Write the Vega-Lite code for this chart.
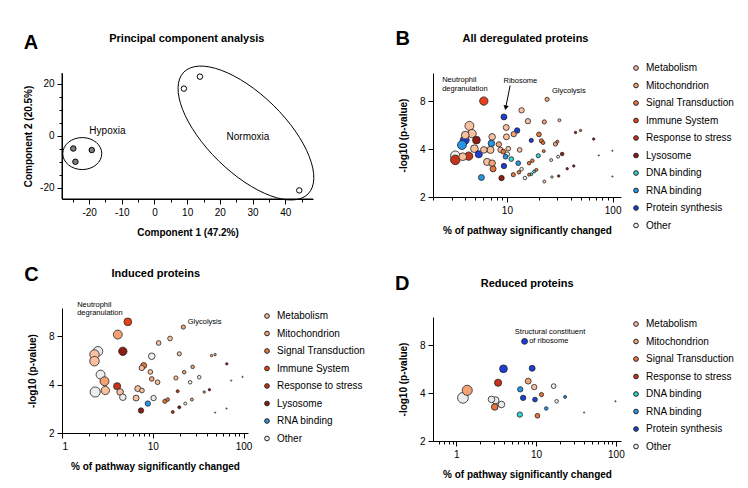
{
  "$schema": "https://vega.github.io/schema/vega-lite/v6.json",
  "padding": {"left": 23, "top": 29, "right": 5, "bottom": 5},
  "config": {
    "font": "Liberation Sans",
    "view": {"stroke": null},
    "axis": {"grid": false, "domainColor": "#000", "tickColor": "#000", "labelColor": "#000", "titleColor": "#000", "labelFontSize": 10, "titleFontSize": 10, "titleFontWeight": "bold", "labelPadding": 3, "tickSize": 5, "titlePadding": 10, "labelOverlap": false},
    "legend": {"labelFontSize": 10, "labelColor": "#000", "symbolType": "circle", "symbolSize": 22, "symbolStrokeColor": "#222", "symbolStrokeWidth": 1, "rowPadding": 7.5, "labelOffset": 5, "padding": 0},
    "text": {"color": "#000"}
  },
  "datasets": {
    "pca": [
      {"c1": -24.85, "c2": -4.9, "group": "Hypoxia"},
      {"c1": -19.2, "c2": -5.5, "group": "Hypoxia"},
      {"c1": -24.2, "c2": -10.0, "group": "Hypoxia"},
      {"c1": 9.0, "c2": 18.1, "group": "Normoxia"},
      {"c1": 13.9, "c2": 22.7, "group": "Normoxia"},
      {"c1": 44.3, "c2": -21.0, "group": "Normoxia"}
    ],
    "pcaGroups": [
      {"group": "Hypoxia", "c1": -22.1, "c2": -6.85},
      {"group": "Normoxia", "c1": 27.98, "c2": 1.04}
    ],
    "pcaLabels": [
      {"group": "Hypoxia", "c1": -14.4, "c2": 1.9},
      {"group": "Normoxia", "c1": 28.6, "c2": -0.4}
    ],
    "B": [
      {"category": "Immune System", "pct": 6.05, "logp": 8.0, "n": 87},
      {"category": "Protein synthesis", "pct": 9.37, "logp": 6.36, "n": 44},
      {"category": "Metabolism", "pct": 13.76, "logp": 7.0, "n": 36},
      {"category": "Metabolism", "pct": 15.8, "logp": 5.98, "n": 36},
      {"category": "Protein synthesis", "pct": 12.5, "logp": 5.23, "n": 36},
      {"category": "Metabolism", "pct": 9.85, "logp": 5.46, "n": 44},
      {"category": "Metabolism", "pct": 9.9, "logp": 4.77, "n": 44},
      {"category": "Mitochondrion", "pct": 11.6, "logp": 4.96, "n": 36},
      {"category": "Protein synthesis", "pct": 17.0, "logp": 4.53, "n": 22},
      {"category": "Signal Transduction", "pct": 20.1, "logp": 4.94, "n": 28},
      {"category": "Metabolism", "pct": 4.42, "logp": 5.59, "n": 100},
      {"category": "Metabolism", "pct": 4.68, "logp": 5.0, "n": 87},
      {"category": "Metabolism", "pct": 4.04, "logp": 4.89, "n": 75},
      {"category": "Protein synthesis", "pct": 3.99, "logp": 4.55, "n": 100},
      {"category": "Lysosome", "pct": 5.15, "logp": 4.55, "n": 75},
      {"category": "RNA binding", "pct": 3.76, "logp": 4.24, "n": 100},
      {"category": "Metabolism", "pct": 4.93, "logp": 4.02, "n": 75},
      {"category": "Other", "pct": 3.25, "logp": 3.63, "n": 114},
      {"category": "Response to stress", "pct": 4.35, "logp": 3.61, "n": 87},
      {"category": "Response to stress", "pct": 3.25, "logp": 3.42, "n": 114},
      {"category": "Metabolism", "pct": 3.82, "logp": 3.58, "n": 75},
      {"category": "Protein synthesis", "pct": 5.42, "logp": 3.71, "n": 64},
      {"category": "Metabolism", "pct": 6.05, "logp": 3.95, "n": 54},
      {"category": "Metabolism", "pct": 6.5, "logp": 3.32, "n": 64},
      {"category": "RNA binding", "pct": 7.14, "logp": 4.34, "n": 54},
      {"category": "Metabolism", "pct": 7.25, "logp": 4.77, "n": 54},
      {"category": "Metabolism", "pct": 6.99, "logp": 3.95, "n": 64},
      {"category": "Metabolism", "pct": 8.7, "logp": 3.95, "n": 36},
      {"category": "Mitochondrion", "pct": 8.4, "logp": 4.28, "n": 36},
      {"category": "Signal Transduction", "pct": 9.23, "logp": 3.85, "n": 28},
      {"category": "Metabolism", "pct": 10.3, "logp": 4.02, "n": 28},
      {"category": "Other", "pct": 10.07, "logp": 3.71, "n": 28},
      {"category": "RNA binding", "pct": 9.7, "logp": 3.58, "n": 28},
      {"category": "Metabolism", "pct": 13.2, "logp": 3.95, "n": 28},
      {"category": "DNA binding", "pct": 11.0, "logp": 3.46, "n": 28},
      {"category": "RNA binding", "pct": 12.8, "logp": 3.26, "n": 28},
      {"category": "Mitochondrion", "pct": 7.25, "logp": 3.26, "n": 54},
      {"category": "Signal Transduction", "pct": 7.4, "logp": 3.0, "n": 44},
      {"category": "Protein synthesis", "pct": 9.37, "logp": 3.13, "n": 36},
      {"category": "Other", "pct": 13.76, "logp": 2.99, "n": 16},
      {"category": "Signal Transduction", "pct": 11.5, "logp": 2.76, "n": 22},
      {"category": "Signal Transduction", "pct": 13.0, "logp": 2.86, "n": 16},
      {"category": "Lysosome", "pct": 8.9, "logp": 2.63, "n": 36},
      {"category": "RNA binding", "pct": 5.74, "logp": 2.65, "n": 44},
      {"category": "Other", "pct": 14.8, "logp": 2.63, "n": 16},
      {"category": "Signal Transduction", "pct": 16.2, "logp": 3.26, "n": 16},
      {"category": "Signal Transduction", "pct": 17.4, "logp": 3.38, "n": 16},
      {"category": "DNA binding", "pct": 19.8, "logp": 3.63, "n": 22},
      {"category": "DNA binding", "pct": 18.1, "logp": 2.89, "n": 11},
      {"category": "DNA binding", "pct": 17.0, "logp": 2.78, "n": 11},
      {"category": "Signal Transduction", "pct": 16.2, "logp": 2.76, "n": 11},
      {"category": "Mitochondrion", "pct": 24.0, "logp": 8.2, "n": 22},
      {"category": "Metabolism", "pct": 31.4, "logp": 6.06, "n": 11},
      {"category": "Mitochondrion", "pct": 22.6, "logp": 5.92, "n": 22},
      {"category": "Signal Transduction", "pct": 21.2, "logp": 4.5, "n": 22},
      {"category": "Signal Transduction", "pct": 22.0, "logp": 4.38, "n": 16},
      {"category": "Mitochondrion", "pct": 28.8, "logp": 4.3, "n": 22},
      {"category": "Signal Transduction", "pct": 30.0, "logp": 4.45, "n": 11},
      {"category": "Lysosome", "pct": 44.6, "logp": 5.08, "n": 7},
      {"category": "Signal Transduction", "pct": 49.7, "logp": 5.23, "n": 7},
      {"category": "Lysosome", "pct": 66.2, "logp": 4.62, "n": 7},
      {"category": "Other", "pct": 99.5, "logp": 3.9, "n": 2},
      {"category": "Other", "pct": 74.0, "logp": 3.65, "n": 2},
      {"category": "Other", "pct": 99.5, "logp": 2.69, "n": 2},
      {"category": "Signal Transduction", "pct": 22.3, "logp": 3.88, "n": 11},
      {"category": "Lysosome", "pct": 33.3, "logp": 3.72, "n": 16},
      {"category": "Other", "pct": 30.5, "logp": 3.58, "n": 11},
      {"category": "Other", "pct": 26.2, "logp": 3.41, "n": 11},
      {"category": "Lysosome", "pct": 37.2, "logp": 3.01, "n": 7},
      {"category": "Lysosome", "pct": 42.9, "logp": 3.13, "n": 7},
      {"category": "Lysosome", "pct": 30.9, "logp": 2.71, "n": 7},
      {"category": "Other", "pct": 26.7, "logp": 2.67, "n": 7},
      {"category": "Metabolism", "pct": 22.6, "logp": 2.5, "n": 11},
      {"category": "Signal Transduction", "pct": 19.0, "logp": 2.96, "n": 11}
    ],
    "C": [
      {"category": "Immune System", "pct": 5.31, "logp": 9.84, "n": 75},
      {"category": "Mitochondrion", "pct": 4.12, "logp": 8.2, "n": 100},
      {"category": "Lysosome", "pct": 4.68, "logp": 6.45, "n": 87},
      {"category": "Other", "pct": 2.49, "logp": 6.45, "n": 114},
      {"category": "Metabolism", "pct": 2.28, "logp": 6.16, "n": 114},
      {"category": "Metabolism", "pct": 2.28, "logp": 5.6, "n": 114},
      {"category": "Other", "pct": 2.66, "logp": 4.62, "n": 100},
      {"category": "Mitochondrion", "pct": 2.94, "logp": 4.2, "n": 100},
      {"category": "Metabolism", "pct": 3.0, "logp": 3.68, "n": 87},
      {"category": "Other", "pct": 2.32, "logp": 3.6, "n": 128},
      {"category": "Response to stress", "pct": 4.05, "logp": 3.91, "n": 64},
      {"category": "Metabolism", "pct": 4.37, "logp": 3.6, "n": 54},
      {"category": "Other", "pct": 4.68, "logp": 3.34, "n": 54},
      {"category": "Metabolism", "pct": 6.55, "logp": 3.3, "n": 44},
      {"category": "Metabolism", "pct": 6.83, "logp": 3.78, "n": 44},
      {"category": "Metabolism", "pct": 7.6, "logp": 3.68, "n": 28},
      {"category": "Lysosome", "pct": 7.42, "logp": 2.76, "n": 36},
      {"category": "RNA binding", "pct": 8.82, "logp": 3.05, "n": 36},
      {"category": "Other", "pct": 10.2, "logp": 3.3, "n": 36},
      {"category": "Other", "pct": 9.75, "logp": 6.01, "n": 54},
      {"category": "Signal Transduction", "pct": 7.95, "logp": 5.26, "n": 44},
      {"category": "Metabolism", "pct": 7.56, "logp": 5.08, "n": 36},
      {"category": "Metabolism", "pct": 9.4, "logp": 4.8, "n": 28},
      {"category": "Mitochondrion", "pct": 9.75, "logp": 4.34, "n": 28},
      {"category": "Metabolism", "pct": 11.3, "logp": 4.14, "n": 28},
      {"category": "Metabolism", "pct": 11.6, "logp": 7.27, "n": 28},
      {"category": "Metabolism", "pct": 15.5, "logp": 7.75, "n": 28},
      {"category": "Mitochondrion", "pct": 21.7, "logp": 9.13, "n": 22},
      {"category": "Metabolism", "pct": 19.6, "logp": 6.22, "n": 22},
      {"category": "Metabolism", "pct": 18.0, "logp": 4.4, "n": 22},
      {"category": "Mitochondrion", "pct": 22.2, "logp": 4.78, "n": 16},
      {"category": "Mitochondrion", "pct": 27.5, "logp": 5.16, "n": 16},
      {"category": "Other", "pct": 25.8, "logp": 4.14, "n": 16},
      {"category": "Other", "pct": 32.5, "logp": 4.45, "n": 16},
      {"category": "Response to stress", "pct": 18.8, "logp": 3.64, "n": 11},
      {"category": "Signal Transduction", "pct": 14.6, "logp": 3.23, "n": 16},
      {"category": "Signal Transduction", "pct": 13.6, "logp": 3.15, "n": 22},
      {"category": "Other", "pct": 22.8, "logp": 3.05, "n": 11},
      {"category": "Mitochondrion", "pct": 27.0, "logp": 3.23, "n": 11},
      {"category": "Lysosome", "pct": 19.6, "logp": 2.89, "n": 11},
      {"category": "Response to stress", "pct": 16.6, "logp": 2.7, "n": 11},
      {"category": "Mitochondrion", "pct": 36.9, "logp": 3.6, "n": 7},
      {"category": "Lysosome", "pct": 42.1, "logp": 3.72, "n": 7},
      {"category": "Mitochondrion", "pct": 44.4, "logp": 6.07, "n": 7},
      {"category": "Mitochondrion", "pct": 48.6, "logp": 6.15, "n": 7},
      {"category": "Lysosome", "pct": 65.4, "logp": 5.39, "n": 7},
      {"category": "Other", "pct": 73.2, "logp": 4.24, "n": 2},
      {"category": "Other", "pct": 97.5, "logp": 4.47, "n": 2},
      {"category": "Other", "pct": 48.6, "logp": 2.68, "n": 2},
      {"category": "Other", "pct": 65.0, "logp": 2.84, "n": 2}
    ],
    "D": [
      {"category": "Protein synthesis", "pct": 7.17, "logp": 8.44, "n": 44},
      {"category": "Protein synthesis", "pct": 3.9, "logp": 5.68, "n": 75},
      {"category": "Protein synthesis", "pct": 8.93, "logp": 5.72, "n": 44},
      {"category": "Response to stress", "pct": 3.34, "logp": 4.64, "n": 64},
      {"category": "Mitochondrion", "pct": 7.96, "logp": 4.75, "n": 44},
      {"category": "Metabolism", "pct": 9.47, "logp": 4.36, "n": 36},
      {"category": "RNA binding", "pct": 6.33, "logp": 4.22, "n": 36},
      {"category": "Other", "pct": 16.6, "logp": 4.42, "n": 28},
      {"category": "Mitochondrion", "pct": 1.37, "logp": 4.16, "n": 128},
      {"category": "Other", "pct": 1.21, "logp": 3.73, "n": 144},
      {"category": "Signal Transduction", "pct": 11.7, "logp": 3.91, "n": 22},
      {"category": "Protein synthesis", "pct": 6.88, "logp": 3.73, "n": 36},
      {"category": "Protein synthesis", "pct": 9.68, "logp": 3.64, "n": 28},
      {"category": "Other", "pct": 2.76, "logp": 3.65, "n": 54},
      {"category": "Other", "pct": 3.09, "logp": 3.6, "n": 64},
      {"category": "Other", "pct": 3.68, "logp": 3.39, "n": 54},
      {"category": "Signal Transduction", "pct": 3.03, "logp": 3.27, "n": 54},
      {"category": "Other", "pct": 18.1, "logp": 3.55, "n": 16},
      {"category": "RNA binding", "pct": 23.1, "logp": 3.78, "n": 11},
      {"category": "RNA binding", "pct": 13.4, "logp": 3.2, "n": 16},
      {"category": "DNA binding", "pct": 6.25, "logp": 2.93, "n": 36},
      {"category": "Signal Transduction", "pct": 10.4, "logp": 2.88, "n": 28},
      {"category": "Other", "pct": 40.0, "logp": 3.02, "n": 2},
      {"category": "Other", "pct": 98.8, "logp": 3.55, "n": 2}
    ]
  },
  "hconcat": [
    {
      "vconcat": [
        {
          "width": 251,
          "height": 126,
          "layer": [
            {
              "layer": [
                {
                  "data": {"name": "pca"},
                  "mark": {"type": "point", "filled": true, "stroke": "#000", "strokeWidth": 1, "size": 30, "opacity": 1},
                  "encoding": {
                    "x": {"field": "c1", "type": "quantitative", "scale": {"domain": [-28.3, 48.5], "nice": false, "zero": false},
                      "axis": {"title": "Component 1 (47.2%)", "values": [-20, -10, 0, 10, 20, 30, 40], "labelExpr": "'' + datum.value", "labelFlush": false}},
                    "y": {"field": "c2", "type": "quantitative", "scale": {"domain": [-24.3, 24.1], "nice": false, "zero": false},
                      "axis": {"title": "Component 2 (20.5%)", "values": [-20, 0, 20], "labelExpr": "'' + datum.value", "titlePadding": 6, "labelFlush": false}},
                    "fill": {"field": "group", "type": "nominal", "legend": null, "scale": {"domain": ["Hypoxia", "Normoxia"], "range": ["#7f7f7f", "#ffffff"]}}
                  }
                },
                {
                  "data": {"name": "pcaGroups"},
                  "mark": {"type": "point", "filled": false, "stroke": "#000", "strokeWidth": 1, "size": 4, "opacity": 1},
                  "encoding": {
                    "x": {"field": "c1", "type": "quantitative", "scale": {"domain": [-28.3, 48.5], "nice": false, "zero": false}},
                    "y": {"field": "c2", "type": "quantitative", "scale": {"domain": [-24.3, 24.1], "nice": false, "zero": false}},
                    "shape": {"field": "group", "type": "nominal", "legend": null,
                      "scale": {"domain": ["Hypoxia", "Normoxia"],
                        "range": ["M 19.5 0 C 19.5 8.8 10.8 16 0 16 C -10.8 16 -19.5 8.8 -19.5 0 C -19.5 -8.8 -10.8 -16 0 -16 C 10.8 -16 19.5 -8.8 19.5 0 Z",
                          "M 62.16 60.87 C 47.09 76.26 7.04 61.49 -27.29 27.87 C -61.62 -5.75 -77.23 -45.48 -62.16 -60.87 C -47.09 -76.26 -7.04 -61.49 27.29 -27.87 C 61.62 5.75 77.23 45.48 62.16 60.87 Z"]}}
                  }
                },
                {
                  "data": {"name": "pcaLabels"},
                  "mark": {"type": "text", "fontSize": 10, "baseline": "middle"},
                  "encoding": {
                    "x": {"field": "c1", "type": "quantitative", "scale": {"domain": [-28.3, 48.5], "nice": false, "zero": false}},
                    "y": {"field": "c2", "type": "quantitative", "scale": {"domain": [-24.3, 24.1], "nice": false, "zero": false}},
                    "text": {"field": "group"}
                  }
                },
                {
                  "data": {"values": [{"c1": -37.8, "c2": 35.6, "t": "A"}]},
                  "mark": {"type": "text", "fontSize": 20, "fontWeight": "bold", "baseline": "middle"},
                  "encoding": {
                    "x": {"field": "c1", "type": "quantitative", "scale": {"domain": [-28.3, 48.5], "nice": false, "zero": false}},
                    "y": {"field": "c2", "type": "quantitative", "scale": {"domain": [-24.3, 24.1], "nice": false, "zero": false}},
                    "text": {"field": "t"}
                  }
                },
                {
                  "data": {"values": [{"c1": 9.9, "c2": 37.1, "t": "Principal component analysis"}]},
                  "mark": {"type": "text", "fontSize": 11, "fontWeight": "bold", "baseline": "middle"},
                  "encoding": {
                    "x": {"field": "c1", "type": "quantitative", "scale": {"domain": [-28.3, 48.5], "nice": false, "zero": false}},
                    "y": {"field": "c2", "type": "quantitative", "scale": {"domain": [-24.3, 24.1], "nice": false, "zero": false}},
                    "text": {"field": "t"}
                  }
                }
              ]
            },
            {
              "data": {"values": [{"c1": -28.3, "c2": -24.3, "c1b": 48.5, "c2b": -24.3}]},
              "mark": {"type": "rule", "stroke": "#000", "strokeWidth": 1},
              "encoding": {
                "x": {"field": "c1", "type": "quantitative", "scale": {"domain": [-28.3, 48.5], "nice": false, "zero": false},
                  "axis": {"orient": "bottom", "values": [-25, -15, -5, 5, 15, 25, 35, 45], "labels": false, "domain": false, "tickSize": 3, "title": null}},
                "y": {"field": "c2", "type": "quantitative", "scale": {"domain": [-24.3, 24.1], "nice": false, "zero": false}, "axis": null},
                "x2": {"field": "c1b"},
                "y2": {"field": "c2b"}
              }
            },
            {
              "data": {"values": [{"c1": -28.3, "c2": -24.3, "c1b": -28.3, "c2b": 24.1}]},
              "mark": {"type": "rule", "stroke": "#000", "strokeWidth": 1},
              "encoding": {
                "x": {"field": "c1", "type": "quantitative", "scale": {"domain": [-28.3, 48.5], "nice": false, "zero": false}, "axis": null},
                "y": {"field": "c2", "type": "quantitative", "scale": {"domain": [-24.3, 24.1], "nice": false, "zero": false},
                  "axis": {"orient": "left", "values": [-15, -10, -5, 5, 10, 15], "labels": false, "domain": false, "tickSize": 3, "title": null}},
                "x2": {"field": "c1b"},
                "y2": {"field": "c2b"}
              }
            }
          ],
          "resolve": {"axis": {"x": "independent", "y": "independent"}}
        },
        {
          "width": 186,
          "height": 125,
          "layer": [
            {
              "data": {"name": "C"},
              "mark": {"type": "point", "filled": true, "stroke": "#222", "strokeWidth": 0.8, "opacity": 1},
              "encoding": {
                "x": {"field": "pct", "type": "quantitative", "scale": {"type": "log", "domain": [1, 112], "nice": false},
                  "axis": {"title": "% of pathway significantly changed", "values": [1, 2, 3, 4, 5, 6, 7, 8, 9, 10, 20, 30, 40, 50, 60, 70, 80, 90, 100],
                    "labelExpr": "datum.value == 1 || datum.value == 10 || datum.value == 100 ? '' + datum.value : ''",
                    "tickSize": {"condition": {"test": "datum.value == 1 || datum.value == 10 || datum.value == 100", "value": 5}, "value": 3}}},
                "y": {"field": "logp", "type": "quantitative", "scale": {"type": "log", "domain": [2, 12], "nice": false},
                  "axis": {"title": "-log10 (p-value)", "values": [2, 4, 8], "labelExpr": "'' + datum.value", "titlePadding": 11}},
                "fill": {"field": "category", "type": "nominal",
                  "scale": {"domain": ["Metabolism", "Mitochondrion", "Signal Transduction", "Immune System", "Response to stress", "Lysosome", "RNA binding", "Other"],
                    "range": ["#F9C0A0", "#F4A274", "#E8763C", "#E8401A", "#C7321A", "#8E1C10", "#2795E3", "#EDEDED"]},
                  "legend": {"orient": "none", "legendX": 200, "legendY": 3, "title": null}},
                "size": {"field": "n", "type": "quantitative", "scale": {"domain": [0, 100], "range": [0, 80]}, "legend": null},
                "order": {"field": "n", "sort": "descending"}
              }
            },
            {
              "data": {"values": [
                {"t": "Neutrophil", "pct": 1.47, "logp": 12.45},
                {"t": "degranulation", "pct": 1.47, "logp": 11.1},
                {"t": "Glycolysis", "pct": 24.3, "logp": 9.84}
              ]},
              "mark": {"type": "text", "fontSize": 7.5, "align": "left", "baseline": "middle"},
              "encoding": {
                "x": {"field": "pct", "type": "quantitative", "scale": {"type": "log", "domain": [1, 112], "nice": false}},
                "y": {"field": "logp", "type": "quantitative", "scale": {"type": "log", "domain": [2, 12], "nice": false}},
                "text": {"field": "t"}
              }
            },
            {
              "data": {"values": [{"t": "C", "pct": 0.46, "logp": 19.3}]},
              "mark": {"type": "text", "fontSize": 20, "fontWeight": "bold", "baseline": "middle"},
              "encoding": {
                "x": {"field": "pct", "type": "quantitative", "scale": {"type": "log", "domain": [1, 112], "nice": false}},
                "y": {"field": "logp", "type": "quantitative", "scale": {"type": "log", "domain": [2, 12], "nice": false}},
                "text": {"field": "t"}
              }
            },
            {
              "data": {"values": [{"t": "Induced proteins", "pct": 10.8, "logp": 19.5}]},
              "mark": {"type": "text", "fontSize": 11, "fontWeight": "bold", "baseline": "middle"},
              "encoding": {
                "x": {"field": "pct", "type": "quantitative", "scale": {"type": "log", "domain": [1, 112], "nice": false}},
                "y": {"field": "logp", "type": "quantitative", "scale": {"type": "log", "domain": [2, 12], "nice": false}},
                "text": {"field": "t"}
              }
            }
          ]
        }
      ],
      "spacing": 109,
      "bounds": "flush",
      "resolve": {"scale": {"fill": "independent", "size": "independent", "shape": "independent"}, "legend": {"fill": "independent"}}
    },
    {
      "vconcat": [
        {
          "width": 188,
          "height": 124,
          "layer": [
            {
              "data": {"name": "B"},
              "mark": {"type": "point", "filled": true, "stroke": "#222", "strokeWidth": 0.8, "opacity": 1},
              "encoding": {
                "x": {"field": "pct", "type": "quantitative", "scale": {"type": "log", "domain": [2, 120], "nice": false},
                  "axis": {"title": "% of pathway significantly changed", "values": [2, 3, 4, 5, 6, 7, 8, 9, 10, 20, 30, 40, 50, 60, 70, 80, 90, 100],
                    "labelExpr": "datum.value == 1 || datum.value == 10 || datum.value == 100 ? '' + datum.value : ''",
                    "tickSize": {"condition": {"test": "datum.value == 1 || datum.value == 10 || datum.value == 100", "value": 5}, "value": 3}}},
                "y": {"field": "logp", "type": "quantitative", "scale": {"type": "log", "domain": [2, 12], "nice": false},
                  "axis": {"title": "-log10 (p-value)", "values": [2, 4, 8], "labelExpr": "'' + datum.value", "titlePadding": 11}},
                "fill": {"field": "category", "type": "nominal",
                  "scale": {"domain": ["Metabolism", "Mitochondrion", "Signal Transduction", "Immune System", "Response to stress", "Lysosome", "DNA binding", "RNA binding", "Protein synthesis", "Other"],
                    "range": ["#F9C0A0", "#F4A274", "#E8763C", "#E8401A", "#C7321A", "#8E1C10", "#2FD5D5", "#2795E3", "#1B3FD6", "#EDEDED"]},
                  "legend": {"orient": "none", "legendX": 198, "legendY": -10, "title": null}},
                "size": {"field": "n", "type": "quantitative", "scale": {"domain": [0, 100], "range": [0, 80]}, "legend": null},
                "order": {"field": "n", "sort": "descending"}
              }
            },
            {
              "data": {"values": [
                {"t": "Neutrophil", "pct": 2.44, "logp": 10.8},
                {"t": "degranulation", "pct": 2.44, "logp": 9.46},
                {"t": "Ribosome", "pct": 9.29, "logp": 10.66},
                {"t": "Glycolysis", "pct": 26.7, "logp": 9.19}
              ]},
              "mark": {"type": "text", "fontSize": 7.5, "align": "left", "baseline": "middle"},
              "encoding": {
                "x": {"field": "pct", "type": "quantitative", "scale": {"type": "log", "domain": [2, 120], "nice": false}},
                "y": {"field": "logp", "type": "quantitative", "scale": {"type": "log", "domain": [2, 12], "nice": false}},
                "text": {"field": "t"}
              }
            },
            {
              "data": {"values": [{"pct": 10.73, "logp": 10.0, "pct2": 9.74, "logp2": 7.27}]},
              "mark": {"type": "rule", "stroke": "#000", "strokeWidth": 1},
              "encoding": {
                "x": {"field": "pct", "type": "quantitative", "scale": {"type": "log", "domain": [2, 120], "nice": false}},
                "y": {"field": "logp", "type": "quantitative", "scale": {"type": "log", "domain": [2, 12], "nice": false}},
                "x2": {"field": "pct2"},
                "y2": {"field": "logp2"}
              }
            },
            {
              "data": {"values": [{"pct": 9.74, "logp": 7.27}]},
              "mark": {"type": "point", "shape": "triangle-down", "filled": true, "fill": "#000", "stroke": null, "size": 28, "angle": 12, "opacity": 1},
              "encoding": {
                "x": {"field": "pct", "type": "quantitative", "scale": {"type": "log", "domain": [2, 120], "nice": false}},
                "y": {"field": "logp", "type": "quantitative", "scale": {"type": "log", "domain": [2, 12], "nice": false}}
              }
            },
            {
              "data": {"values": [{"t": "B", "pct": 1.036, "logp": 19.6}]},
              "mark": {"type": "text", "fontSize": 20, "fontWeight": "bold", "baseline": "middle"},
              "encoding": {
                "x": {"field": "pct", "type": "quantitative", "scale": {"type": "log", "domain": [2, 120], "nice": false}},
                "y": {"field": "logp", "type": "quantitative", "scale": {"type": "log", "domain": [2, 12], "nice": false}},
                "text": {"field": "t"}
              }
            },
            {
              "data": {"values": [{"t": "All deregulated proteins", "pct": 15.0, "logp": 19.7}]},
              "mark": {"type": "text", "fontSize": 11, "fontWeight": "bold", "baseline": "middle"},
              "encoding": {
                "x": {"field": "pct", "type": "quantitative", "scale": {"type": "log", "domain": [2, 120], "nice": false}},
                "y": {"field": "logp", "type": "quantitative", "scale": {"type": "log", "domain": [2, 12], "nice": false}},
                "text": {"field": "t"}
              }
            }
          ]
        },
        {
          "width": 188,
          "height": 124,
          "layer": [
            {
              "data": {"name": "D"},
              "mark": {"type": "point", "filled": true, "stroke": "#222", "strokeWidth": 0.8, "opacity": 1},
              "encoding": {
                "x": {"field": "pct", "type": "quantitative", "scale": {"type": "log", "domain": [0.51, 116], "nice": false},
                  "axis": {"title": "% of pathway significantly changed", "values": [0.6, 0.7, 0.8, 0.9, 1, 2, 3, 4, 5, 6, 7, 8, 9, 10, 20, 30, 40, 50, 60, 70, 80, 90, 100],
                    "labelExpr": "datum.value == 1 || datum.value == 10 || datum.value == 100 ? '' + datum.value : ''",
                    "tickSize": {"condition": {"test": "datum.value == 1 || datum.value == 10 || datum.value == 100", "value": 5}, "value": 3}}},
                "y": {"field": "logp", "type": "quantitative", "scale": {"type": "log", "domain": [2, 12], "nice": false},
                  "axis": {"title": "-log10 (p-value)", "values": [2, 4, 8], "labelExpr": "'' + datum.value", "titlePadding": 11}},
                "fill": {"field": "category", "type": "nominal",
                  "scale": {"domain": ["Metabolism", "Mitochondrion", "Signal Transduction", "Response to stress", "DNA binding", "RNA binding", "Protein synthesis", "Other"],
                    "range": ["#F9C0A0", "#F4A274", "#E8763C", "#C7321A", "#2FD5D5", "#2795E3", "#1B3FD6", "#EDEDED"]},
                  "legend": {"orient": "none", "legendX": 198, "legendY": 2, "title": null}},
                "size": {"field": "n", "type": "quantitative", "scale": {"domain": [0, 100], "range": [0, 80]}, "legend": null},
                "order": {"field": "n", "sort": "descending"}
              }
            },
            {
              "data": {"values": [
                {"t": "Structural constituent", "pct": 5.41, "logp": 9.69},
                {"t": "of ribosome", "pct": 8.19, "logp": 8.52}
              ]},
              "mark": {"type": "text", "fontSize": 7.5, "align": "left", "baseline": "middle"},
              "encoding": {
                "x": {"field": "pct", "type": "quantitative", "scale": {"type": "log", "domain": [0.51, 116], "nice": false}},
                "y": {"field": "logp", "type": "quantitative", "scale": {"type": "log", "domain": [2, 12], "nice": false}},
                "text": {"field": "t"}
              }
            },
            {
              "data": {"values": [{"t": "D", "pct": 0.21, "logp": 19.2}]},
              "mark": {"type": "text", "fontSize": 20, "fontWeight": "bold", "baseline": "middle"},
              "encoding": {
                "x": {"field": "pct", "type": "quantitative", "scale": {"type": "log", "domain": [0.51, 116], "nice": false}},
                "y": {"field": "logp", "type": "quantitative", "scale": {"type": "log", "domain": [2, 12], "nice": false}},
                "text": {"field": "t"}
              }
            },
            {
              "data": {"values": [{"t": "Reduced proteins", "pct": 7.73, "logp": 19.4}]},
              "mark": {"type": "text", "fontSize": 11, "fontWeight": "bold", "baseline": "middle"},
              "encoding": {
                "x": {"field": "pct", "type": "quantitative", "scale": {"type": "log", "domain": [0.51, 116], "nice": false}},
                "y": {"field": "logp", "type": "quantitative", "scale": {"type": "log", "domain": [2, 12], "nice": false}},
                "text": {"field": "t"}
              }
            }
          ]
        }
      ],
      "spacing": 120,
      "bounds": "flush",
      "resolve": {"scale": {"fill": "independent", "size": "independent", "shape": "independent"}, "legend": {"fill": "independent"}}
    }
  ],
  "spacing": 371,
  "bounds": "flush",
  "resolve": {"scale": {"fill": "independent", "size": "independent", "shape": "independent"}, "legend": {"fill": "independent"}}
}
